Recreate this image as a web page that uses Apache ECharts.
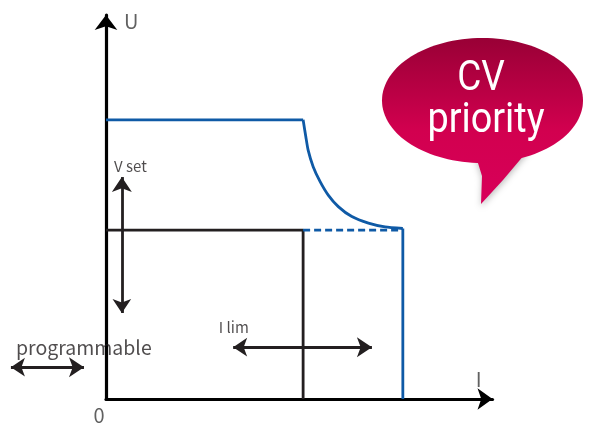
<!DOCTYPE html>
<html>
<head>
<meta charset="utf-8">
<script src="https://cdn.jsdelivr.net/npm/echarts@6/dist/echarts.min.js"></script>
<style>html,body{margin:0;padding:0;background:#fff;}#c{width:590px;height:427px;}</style>
</head>
<body>
<div id="c"></div>
<script>
// ---- data (I on x, U on y, arbitrary units 0..100) ----
const cvLineI = [0, 51];
const cvLineU = [72.7, 72.7];
const curveI = [51.0, 51.7, 52.3, 53.6, 55.4, 57.5, 60.1, 63.6, 67.9, 72.2, 76.8];
const curveU = [72.7, 68.3, 64.8, 60.5, 56.6, 53.1, 50.1, 47.5, 45.8, 44.8, 44.4];
const ccLineI = [76.8, 76.8];
const ccLineU = [44.4, 0];
const setLineI = [0, 51, 51];
const setLineU = [44.0, 44.0, 0];
const dashI = [51, 76.8];
const dashU = [44.0, 44.0];
// double arrows: [i1, u1, i2, u2]
const vsetArrow = [4.1, 22.4, 4.1, 57.8];
const ilimArrow = [32.9, 13.5, 68.8, 13.5];
const progArrow = [-24.6, 8.3, -5.7, 8.3];
// annotation texts
const labelTexts = ['V set', 'I lim', 'programmable'];
const labelSizes = [15, 15, 19.5];
const labelI = [2.1, 29.2, -23.3];
const labelU = [60.7, 18.6, 13.5];
const axisTexts = ['U', 'I', '0'];
const axisTextI = [6.5, 96.4, -1.8];
const axisTextU = [98.4, 5.1, -4.4];
const bubbleText = ['CV', 'priority'];

const zip = (a, b) => a.map((v, i) => [v, b[i]]);
const BLUE = '#0f5aa6', BLACK = '#231f20';
const FONT = '"Noto Sans CJK SC", "Noto Sans", sans-serif';

const chart = echarts.init(document.getElementById('c'));
const lineS = (name, xs, ys, color, extra) => Object.assign({
  name, type: 'line', data: zip(xs, ys), showSymbol: false, symbol: 'none',
  lineStyle: { color, width: 2.8 }, animation: false, silent: true, clip: false
}, extra || {});
const arrowData = a => ({ coords: [[a[0], a[1]], [a[2], a[3]]] });
const textSeries = (texts, xs, ys, sizes, align, color) => ({
  type: 'scatter', clip: false, silent: true, symbolSize: 1,
  itemStyle: { color: 'rgba(0,0,0,0)' },
  data: texts.map((t, i) => ({ value: [xs[i], ys[i]], name: t,
    label: { fontSize: sizes[i] } })),
  label: { show: true, position: 'inside', align, verticalAlign: 'middle',
    formatter: p => p.name, color, fontFamily: FONT },
  z: 10
});

chart.setOption({
  animation: false,
  grid: { left: 106, right: 97.5, top: 15, bottom: 28 },
  xAxis: {
    type: 'value', min: 0, max: 100,
    axisLine: { onZero: false, lineStyle: { color: '#000', width: 3.2 }, symbol: ['none', 'arrow'], symbolSize: [16, 15] },
    axisTick: { show: false }, axisLabel: { show: false }, splitLine: { show: false }
  },
  yAxis: {
    type: 'value', min: 0, max: 100,
    axisLine: { show: true, onZero: false, lineStyle: { color: '#000', width: 3.2 }, symbol: ['none', 'arrow'], symbolSize: [17, 15] },
    axisTick: { show: false }, axisLabel: { show: false }, splitLine: { show: false }
  },
  series: [
    lineS('cv', cvLineI, cvLineU, BLUE),
    lineS('curve', curveI, curveU, BLUE, { smooth: 0.2 }),
    lineS('cc', ccLineI, ccLineU, BLUE),
    lineS('set', setLineI, setLineU, BLACK),
    lineS('dash', dashI, dashU, BLUE, { lineStyle: { color: BLUE, width: 2.8, type: [7, 4] } }),
    {
      type: 'lines', coordinateSystem: 'cartesian2d', clip: false, silent: true,
      symbol: ['arrow', 'arrow'], symbolSize: [14, 15],
      lineStyle: { color: BLACK, width: 2.8, opacity: 1, curveness: 0 },
      data: [arrowData(vsetArrow), arrowData(ilimArrow), arrowData(progArrow)]
    },
    textSeries(labelTexts, labelI, labelU, labelSizes, 'left', '#231f20'),
    textSeries(axisTexts, axisTextI, axisTextU, [20, 20, 20], 'center', '#3a3a3a')
  ]
});

// speech bubble
const grad = { type: 'linear', x: 0, y: 40, x2: 0, y2: 205, global: true,
  colorStops: [{ offset: 0, color: '#9a0036' }, { offset: 0.55, color: '#d2004f' }, { offset: 1, color: '#d8005a' }] };
chart.setOption({
  graphic: [
    { type: 'polygon', shape: { points: [[474, 150], [482, 176], [481, 204], [503, 180], [530, 148]] },
      style: { fill: grad, shadowBlur: 6, shadowColor: 'rgba(0,0,0,0.25)', shadowOffsetY: 3 }, silent: true },
    { type: 'ellipse', shape: { cx: 482.5, cy: 100.5, rx: 100.5, ry: 62.5 }, style: { fill: grad }, silent: true },
    { type: 'text', x: 481, y: 79, scaleX: 0.86, style: { text: bubbleText[0], fill: '#fff', font: '400 43px Roboto',
      align: 'center', verticalAlign: 'middle' }, silent: true },
    { type: 'text', x: 486, y: 121, scaleX: 0.88, style: { text: bubbleText[1], fill: '#fff', font: '400 43px Roboto',
      align: 'center', verticalAlign: 'middle' }, silent: true }
  ]
});
</script>
</body>
</html>
